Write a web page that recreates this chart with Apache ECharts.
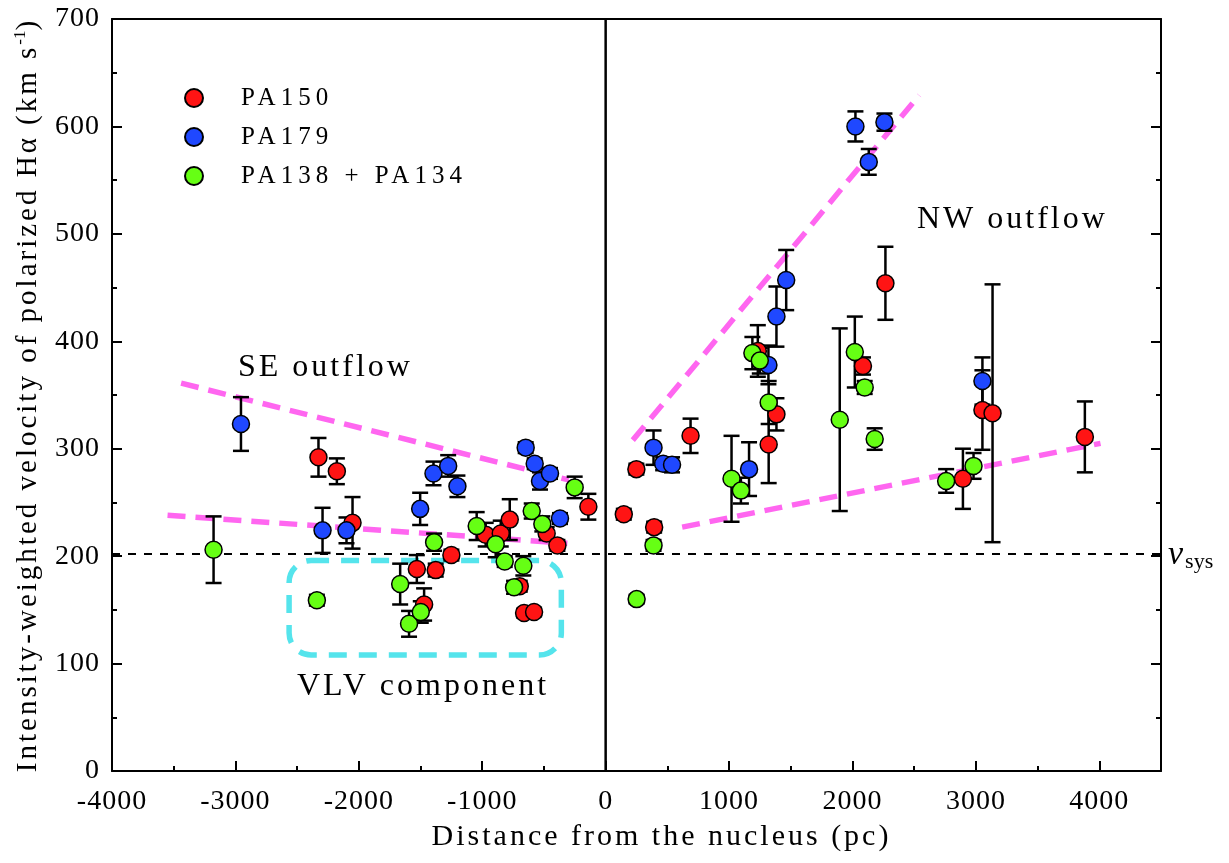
<!DOCTYPE html>
<html>
<head>
<meta charset="utf-8">
<title>Polarized Halpha velocity vs distance</title>
<script src="https://cdn.jsdelivr.net/npm/echarts@6/dist/echarts.min.js"></script>
<style>
  html, body { margin: 0; padding: 0; background: #fff; }
  #main { width: 1229px; height: 863px; }
</style>
</head>
<body>
<div id="main"></div>
<script>
// PA150 (red): distance, velocity, error
const pa150X = [-2327, -2178, -2051, -1530, -1471, -1377, -1250, -972, -850, -777, -696, -661, -580, -478, -391, -140,
  147, 249, 393, 688, 1233, 1321, 1384, 2085, 2267, 2895, 3053, 3135, 3883];
const pa150Y = [292, 279, 231, 188, 155, 187, 201, 220, 221, 234, 172, 147, 148, 221, 210, 246,
  239, 281, 227, 312, 391, 304, 332, 377, 454, 272, 336, 333, 311];
const pa150Err = [18, 12, 24, 13, 15, 6, 5, 11, 12, 19, 5, 4, 4, 6, 5, 12,
  5, 5, 5, 16, 24, 36, 15, 8, 34, 28, 37, 120, 33];

// PA179 (blue)
const pa179X = [-2955, -2294, -2100, -1503, -1395, -1276, -1201, -648, -575, -532, -451, -370,
  388, 466, 538, 1162, 1319, 1384, 1463, 2024, 2132, 2259, 3053];
const pa179Y = [323, 224, 224, 244, 277, 284, 265, 301, 286, 270, 277, 235,
  301, 286, 285, 281, 378, 423, 457, 600, 567, 604, 363];
const pa179Err = [25, 21, 12, 15, 11, 10, 10, 5, 5, 8, 5, 5,
  16, 6, 7, 25, 18, 28, 28, 14, 12, 8, 22];

// PA138 + PA134 (green)
const pa138X = [-3177, -2340, -1665, -1593, -1498, -1390, -1045, -891, -818, -742, -667, -599, -513, -251,
  251, 388, 1020, 1096, 1189, 1249, 1321, 1897, 2019, 2099, 2180, 2759, 2981];
const pa138Y = [206, 159, 174, 137, 148, 213, 228, 211, 195, 171, 191, 242, 230, 264,
  160, 210, 272, 261, 389, 382, 343, 327, 390, 357, 309, 270, 284];
const pa138Err = [31, 5, 19, 12, 10, 8, 13, 12, 5, 6, 9, 7, 7, 10,
  4, 5, 40, 12, 15, 12, 20, 85, 33, 6, 10, 11, 12];

// guide lines (magenta) and VLV box
const seUpper = [[-3440, 361], [-300, 271]];
const seLower = [[-3550, 238], [-310, 212]];
const nwSteep = [[220, 308], [2540, 629]];
const nwLower = [[620, 227], [4010, 305]];
const vlvBox = [[-2565, 108, -359, 196]];
const vsys = 202;

const xTicks = { min: -4000, max: 4500, interval: 1000 };
const yTicks = { min: 0, max: 700, interval: 100 };

const FONT = "Liberation Serif";
const RED = "#ff1414", BLUE = "#1f48ff", GREEN = "#66ff14";

// the original plot uses loosely spaced text; canvas letterSpacing keyed by font size
const SPACING = { "25": "5px", "28": "1px", "29": "3px", "30": "3px", "32": "3px" };
const fontDesc = Object.getOwnPropertyDescriptor(CanvasRenderingContext2D.prototype, "font");
Object.defineProperty(CanvasRenderingContext2D.prototype, "font", {
  get() { return fontDesc.get.call(this); },
  set(v) {
    fontDesc.set.call(this, v);
    if ("letterSpacing" in this) {
      const m = /(\d+)px/.exec(v);
      this.letterSpacing = (m && SPACING[m[1]]) || "0px";
    }
  }
});

function zip(xs, ys, es) {
  return xs.map((x, i) => [x, ys[i], es[i]]);
}

// vertical error bar with caps
function renderErr(params, api) {
  const x = api.value(0), y = api.value(1), e = api.value(2);
  const top = api.coord([x, y + e]);
  const bot = api.coord([x, y - e]);
  const cap = 8;
  const st = { stroke: "#000", lineWidth: 2.5 };
  return {
    type: "group",
    children: [
      { type: "line", shape: { x1: top[0], y1: top[1], x2: bot[0], y2: bot[1] }, style: st },
      { type: "line", shape: { x1: top[0] - cap, y1: top[1], x2: top[0] + cap, y2: top[1] }, style: st },
      { type: "line", shape: { x1: bot[0] - cap, y1: bot[1], x2: bot[0] + cap, y2: bot[1] }, style: st }
    ]
  };
}

function errSeries(name, data) {
  return {
    name: name,
    type: "custom",
    renderItem: renderErr,
    data: data,
    encode: { x: 0, y: 1 },
    silent: true,
    z: 4
  };
}

function ptSeries(name, data, color) {
  return {
    name: name,
    type: "scatter",
    data: data,
    symbol: "circle",
    symbolSize: 17,
    itemStyle: { color: color, borderColor: "#000", borderWidth: 1.5, opacity: 1 },
    z: 4
  };
}

function guide(data) {
  return {
    type: "line",
    data: data,
    symbol: "none",
    silent: true,
    lineStyle: { color: "#ff66f0", width: 5.5, type: [18, 10] },
    z: 3
  };
}

const chart = echarts.init(document.getElementById("main"));

const axisLine = { show: true, onZero: false, lineStyle: { color: "#000", width: 2 } };
const tick = { show: true, inside: true, length: 10, lineStyle: { color: "#000", width: 2 } };
const minor = { show: true, splitNumber: 2, length: 5, lineStyle: { color: "#000", width: 2 } };

const option = {
  animation: false,
  backgroundColor: "#fff",
  grid: { left: 112, right: 68, top: 19, bottom: 92 },
  legend: {
    orient: "vertical",
    left: 179,
    top: 78,
    itemGap: 9,
    itemWidth: 18,
    itemHeight: 18,
    icon: "circle",
    data: ["PA150", "PA179", "PA138 + PA134"],
    textStyle: { fontFamily: FONT, fontSize: 25, color: "#000", padding: [0, 0, 0, 33] }
  },
  xAxis: [
    {
      type: "value",
      position: "bottom",
      min: xTicks.min, max: xTicks.max, interval: xTicks.interval,
      axisLine: axisLine, axisTick: tick, minorTick: minor,
      splitLine: { show: false },
      axisLabel: {
        fontFamily: FONT, fontSize: 28, color: "#000", margin: 16, showMaxLabel: false,
        formatter: v => String(v)
      },
      name: "Distance from the nucleus (pc)",
      nameLocation: "middle",
      nameGap: 48,
      nameTextStyle: { fontFamily: FONT, fontSize: 30, color: "#000", padding: [0, 0, 0, 50] }
    },
    {
      type: "value",
      position: "top",
      min: xTicks.min, max: xTicks.max,
      axisLine: axisLine,
      axisTick: { show: false },
      axisLabel: { show: false },
      splitLine: { show: false }
    }
  ],
  yAxis: [
    {
      type: "value",
      position: "left",
      min: yTicks.min, max: yTicks.max, interval: yTicks.interval,
      axisLine: axisLine, axisTick: tick, minorTick: minor,
      splitLine: { show: false },
      axisLabel: { fontFamily: FONT, fontSize: 28, color: "#000", margin: 12 },
      name: "{a|Intensity-weighted velocity of polarized H\u03b1 (km s}{s|-1}{a|)}",
      nameLocation: "middle",
      nameGap: 66,
      nameTextStyle: {
        rich: {
          a: { fontFamily: FONT, fontSize: 29, color: "#000" },
          s: { fontFamily: FONT, fontSize: 17, color: "#000", verticalAlign: "top", padding: [0, 0, 14, 0] }
        }
      }
    },
    {
      type: "value",
      position: "right",
      min: yTicks.min, max: yTicks.max, interval: yTicks.interval,
      axisLine: axisLine, axisTick: tick, minorTick: minor,
      axisLabel: { show: false },
      splitLine: { show: false }
    }
  ],
  series: [
    {
      type: "line",
      data: [[xTicks.min, vsys], [xTicks.max, vsys]],
      symbol: "none", silent: true,
      lineStyle: { color: "#000", width: 2, type: [8, 8] },
      z: 2
    },
    {
      type: "line",
      data: [[0, yTicks.min], [0, yTicks.max]],
      symbol: "none", silent: true,
      lineStyle: { color: "#000", width: 2.5 },
      z: 2
    },
    guide(seUpper), guide(seLower), guide(nwSteep), guide(nwLower),
    {
      type: "custom",
      silent: true,
      data: vlvBox,
      encode: { x: [0, 2], y: [1, 3] },
      renderItem: function (params, api) {
        const p1 = api.coord([api.value(0), api.value(3)]);
        const p2 = api.coord([api.value(2), api.value(1)]);
        return {
          type: "rect",
          shape: { x: p1[0], y: p1[1], width: p2[0] - p1[0], height: p2[1] - p1[1], r: 22 },
          style: { fill: null, stroke: "#55e4ec", lineWidth: 5.5, lineDash: [18, 12] }
        };
      },
      z: 3
    },
    errSeries("err150", zip(pa150X, pa150Y, pa150Err)),
    ptSeries("PA150", zip(pa150X, pa150Y, pa150Err), RED),
    errSeries("err179", zip(pa179X, pa179Y, pa179Err)),
    ptSeries("PA179", zip(pa179X, pa179Y, pa179Err), BLUE),
    errSeries("err138", zip(pa138X, pa138Y, pa138Err)),
    ptSeries("PA138 + PA134", zip(pa138X, pa138Y, pa138Err), GREEN)
  ],
  graphic: [
    { type: "text", left: 238, top: 350, style: { text: "SE outflow", font: "32px " + FONT, fill: "#000" } },
    { type: "text", left: 917, top: 202, style: { text: "NW outflow", font: "32px " + FONT, fill: "#000" } },
    { type: "text", left: 297, top: 669, style: { text: "VLV component", font: "32px " + FONT, fill: "#000" } },
    {
      type: "text", left: 1168, top: 538,
      style: {
        text: "{v|v}{s|sys}",
        rich: {
          v: { font: "italic 34px " + FONT, fill: "#000" },
          s: { font: "22px " + FONT, fill: "#000", padding: [14, 0, 0, 2] }
        }
      }
    }
  ]
};

chart.setOption(option);
</script>
</body>
</html>
